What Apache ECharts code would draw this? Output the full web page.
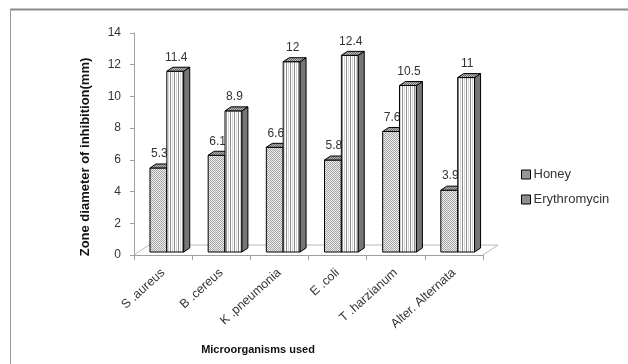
<!DOCTYPE html>
<html>
<head>
<meta charset="utf-8">
<script src="https://cdn.jsdelivr.net/npm/echarts@6/dist/echarts.min.js"></script>
<style>
html,body{margin:0;padding:0;background:#fff;}
#chart{width:628px;height:364px;}
</style>
</head>
<body>
<div id="chart"></div>
<script>
// Zone of inhibition (mm) per test organism
const categories = ['S .aureus', 'B .cereus', 'K .pneumonia', 'E .coli', 'T .harzianum', 'Alter. Alternata'];
const honey = [5.3, 6.1, 6.6, 5.8, 7.6, 3.9];
const erythromycin = [11.4, 8.9, 12, 12.4, 10.5, 11];
const seriesNames = ['Honey', 'Erythromycin'];
const yTicks = [0, 2, 4, 6, 8, 10, 12, 14];

const FONT = '"Liberation Sans", Arial, sans-serif';

// Small canvas tiles used as fill patterns
function makePattern(w, h, draw) {
  const c = document.createElement('canvas');
  c.width = w; c.height = h;
  draw(c.getContext('2d'));
  return { image: c, repeat: 'repeat' };
}
function checker(light, dark) {
  return makePattern(2, 2, g => {
    g.fillStyle = light; g.fillRect(0, 0, 2, 2);
    g.fillStyle = dark; g.fillRect(0, 0, 1, 1); g.fillRect(1, 1, 1, 1);
  });
}
function stripes(cols) {
  return makePattern(cols.length, 2, g => {
    cols.forEach((c, i) => { g.fillStyle = c; g.fillRect(i, 0, 1, 2); });
  });
}
const honeyFront = checker('#eeeeee', '#a4a4a4');
const honeyTop = checker('#b0b0b0', '#707070');
const erythFront = stripes(['#d4d4d4', '#ffffff', '#8c8c8c', '#ffffff']);
const erythTop = checker('#b8b8b8', '#6c6c6c');
const honeyKey = checker('#ffffff', '#303030');
const erythKey = stripes(['#ffffff', '#202020']);
const sideColor = '#767676';

const DX = 6, DY = 4, LIFT = 3;

function barRenderer(slot, front, top) {
  return function (params, api) {
    const idx = api.value(0), v = api.value(1);
    const base = api.coord([idx, 0]);
    const tp = api.coord([idx, v]);
    const bw = api.size([1, 0])[0];
    const w = bw * 0.29;
    const x0 = base[0] - bw * 0.225 + slot * w;
    const x1 = x0 + w;
    const yb = base[1] - LIFT;
    const yt = tp[1] - LIFT;
    const edge = { stroke: '#000', lineWidth: 1 };
    return {
      type: 'group',
      children: [
        { type: 'polygon', shape: { points: [[x0, yt], [x1, yt], [x1, yb], [x0, yb]] },
          style: Object.assign({ fill: front }, edge) },
        { type: 'polygon', shape: { points: [[x1, yt], [x1 + DX, yt - DY], [x1 + DX, yb - DY], [x1, yb]] },
          style: Object.assign({ fill: sideColor }, edge) },
        { type: 'polygon', shape: { points: [[x0, yt], [x0 + DX, yt - DY], [x1 + DX, yt - DY], [x1, yt]] },
          style: Object.assign({ fill: top }, edge) },
        { type: 'text', x: (x0 + x1) / 2 + 1, y: yt - 14,
          style: { text: String(v), fill: '#333', font: '12px ' + FONT,
                   align: 'center', verticalAlign: 'middle' } }
      ]
    };
  };
}

// Floor of the 3D plot area, drawn from the grid rectangle
function floorRenderer(params, api) {
  const cs = params.coordSys;
  const xL = cs.x, xR = cs.x + cs.width, yB = cs.y + cs.height;
  return {
    type: 'polyline',
    shape: { points: [[xL, yB], [xL + 15, yB - 10], [xR + 15, yB - 10], [xR, yB]] },
    style: { stroke: '#b8b8b8', lineWidth: 1, fill: null }
  };
}

const chart = echarts.init(document.getElementById('chart'), null, { renderer: 'canvas' });
chart.setOption({
  animation: false,
  backgroundColor: '#fff',
  grid: { left: 134, right: 145, top: 33, bottom: 109, containLabel: false },
  xAxis: {
    type: 'category',
    data: categories,
    axisLine: { lineStyle: { color: '#a0a0a0' } },
    axisTick: { show: true, length: 5, lineStyle: { color: '#a0a0a0' } },
    axisLabel: { rotate: 42, interval: 0, margin: 16, fontSize: 12.5, color: '#333', fontFamily: FONT }
  },
  yAxis: {
    type: 'value',
    min: yTicks[0], max: yTicks[yTicks.length - 1], interval: 2,
    axisLine: { show: true, lineStyle: { color: '#a0a0a0' } },
    axisTick: { show: true, length: 4, lineStyle: { color: '#a0a0a0' } },
    splitLine: { show: false },
    axisLabel: { margin: 13, fontSize: 12, color: '#333', fontFamily: FONT }
  },
  legend: {
    orient: 'vertical',
    left: 521, top: 168, padding: 0,
    itemWidth: 9, itemHeight: 9, itemGap: 12,
    textStyle: { fontSize: 13, color: '#333', fontFamily: FONT, padding: [0, 0, 0, -2] },
    data: [
      { name: seriesNames[0], icon: 'rect', itemStyle: { color: honeyKey, borderColor: '#000', borderWidth: 1 } },
      { name: seriesNames[1], icon: 'rect', itemStyle: { color: erythKey, borderColor: '#000', borderWidth: 1 } }
    ]
  },
  graphic: [
    { type: 'line', shape: { x1: 10, y1: 9.5, x2: 628, y2: 9.5 }, style: { stroke: '#8a8a8a', lineWidth: 2 } },
    { type: 'line', shape: { x1: 10.5, y1: 9, x2: 10.5, y2: 364 }, style: { stroke: '#9a9a9a', lineWidth: 1 } },
    { type: 'text', x: 85, y: 157, rotation: Math.PI / 2,
      style: { text: 'Zone diameter of inhibition(mm)', fill: '#111', font: 'bold 13px ' + FONT,
               align: 'center', verticalAlign: 'middle' } },
    { type: 'text', x: 258, y: 350,
      style: { text: 'Microorganisms used', fill: '#111', font: 'bold 11px ' + FONT,
               align: 'center', verticalAlign: 'middle' } }
  ],
  series: [
    { type: 'custom', name: 'floor', renderItem: floorRenderer, data: [[0, 0]], silent: true, z: 1 },
    { type: 'custom', name: seriesNames[0], renderItem: barRenderer(0, honeyFront, honeyTop),
      itemStyle: { color: honeyFront }, data: honey.map((v, i) => [i, v]), encode: { x: 0, y: 1 }, z: 2 },
    { type: 'custom', name: seriesNames[1], renderItem: barRenderer(1, erythFront, erythTop),
      itemStyle: { color: erythFront }, data: erythromycin.map((v, i) => [i, v]), encode: { x: 0, y: 1 }, z: 3 }
  ]
});
</script>
</body>
</html>
